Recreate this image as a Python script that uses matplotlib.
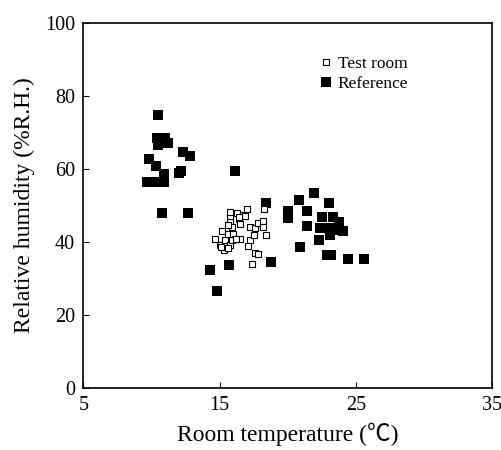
import matplotlib
matplotlib.use("Agg")
import matplotlib.pyplot as plt

# test room (open squares)
test_t = [14.7, 15.2, 15.0, 15.3, 15.4, 15.6, 15.8, 15.8, 15.8, 15.9, 15.8, 15.6,
          16.0, 16.1, 16.3, 16.4, 16.5, 16.7, 16.5, 17.0, 17.2, 17.2, 17.1, 17.5,
          17.6, 17.8, 17.6, 17.8, 17.4, 18.2, 18.3, 18.2, 18.4, 15.1, 15.9, 16.2,
          16.9, 16.4, 15.6]
test_rh = [40.7, 43.0, 39.1, 37.7, 40.6, 42.3, 46.8, 48.2, 45.5, 44.1, 39.1, 38.2,
           42.3, 40.9, 48.0, 46.4, 45.0, 47.3, 40.7, 48.9, 44.1, 40.6, 38.9, 41.8,
           43.9, 45.2, 37.0, 36.8, 33.9, 45.8, 48.9, 44.1, 42.0, 38.6, 40.5, 40.9,
           47.1, 46.8, 44.6]

# reference (filled squares)
ref_t = [10.5, 10.4, 11.0, 10.5, 11.2, 9.8, 10.3, 9.7, 10.3, 10.9, 10.9, 12.3,
         12.8, 12.0, 12.2, 10.8, 12.7, 16.1, 14.3, 14.8, 15.7, 18.4, 18.8, 20.0,
         20.0, 20.8, 21.9, 21.4, 21.4, 20.9, 22.3, 22.5, 23.0, 22.4, 23.0, 23.3,
         23.1, 23.8, 23.6, 24.1, 22.9, 23.2, 24.4, 25.6]
ref_rh = [74.7, 68.5, 68.5, 66.5, 67.2, 62.6, 60.8, 56.5, 56.5, 56.5, 58.7, 64.7,
          63.6, 58.9, 59.5, 47.9, 47.9, 59.5, 32.4, 26.5, 33.6, 50.7, 34.5, 48.4,
          46.6, 51.4, 53.5, 48.5, 44.4, 38.6, 40.5, 46.7, 50.7, 43.7, 43.7, 46.8,
          41.8, 45.5, 43.2, 43.0, 36.5, 36.5, 35.4, 35.4]

xticks = [5, 15, 25, 35]
yticks = [0, 20, 40, 60, 80, 100]

plt.rcParams['font.family'] = ['Liberation Serif', 'Noto Sans CJK JP']

fig = plt.figure(figsize=(5.02, 4.5), dpi=100)
ax = fig.add_axes([0.166, 0.138, 0.814, 0.811])

ax.plot(ref_t, ref_rh, 's', color='black', ms=7, mew=0, label='Reference', zorder=2)
ax.plot(test_t, test_rh, 's', mfc='white', mec='black', ms=4.3, mew=0.8,
        label='Test room', zorder=3)

ax.set_xlim(5, 35)
ax.set_ylim(0, 100)
ax.set_xticks(xticks)
ax.set_yticks(yticks)
ax.tick_params(direction='in', length=4, labelsize=14.5, pad=6)
for s in ax.spines.values():
    s.set_linewidth(1.2)

ax.set_xlabel('Room temperature (℃)', fontsize=17, labelpad=5)
ax.set_ylabel('Relative humidity (%R.H.)', fontsize=17, labelpad=7)

h, l = ax.get_legend_handles_labels()
ax.legend(h[::-1], l[::-1], loc='upper left', bbox_to_anchor=(0.555, 0.928),
          frameon=False, fontsize=12.5, handletextpad=0.2, handlelength=1.0,
          labelspacing=0.2, borderaxespad=0)

fig.savefig('out.png', dpi=100)
